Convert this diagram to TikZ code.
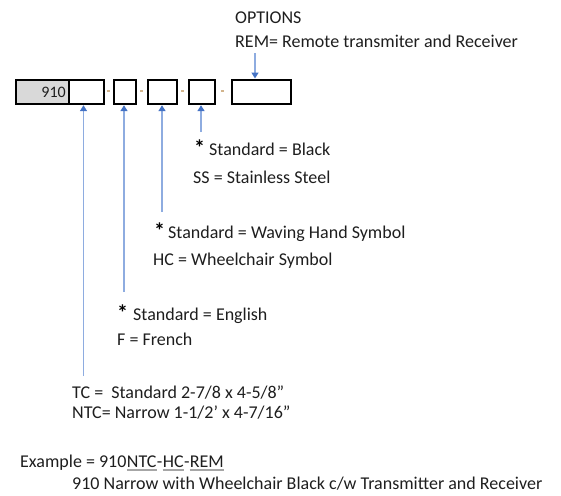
\documentclass[tikz,border=0pt]{standalone}
\usepackage{fontspec}
\setmainfont{Carlito}
\usetikzlibrary{arrows.meta}
\definecolor{txtc}{HTML}{1E1E1E}
\definecolor{arrline}{HTML}{8EACE0}
\definecolor{arrhead}{HTML}{4472C4}
\definecolor{boxfill}{HTML}{D9D9D9}
\definecolor{sepc}{HTML}{D2B48C}
\definecolor{ulc}{HTML}{A6A6A6}
\begin{document}
\begin{tikzpicture}[x=1pt,y=-1pt,
  cbox/.style={draw=black, line width=1.7pt, minimum height=24pt, inner sep=0pt, anchor=north west},
  lbl/.style={anchor=base west, inner sep=0pt, font=\fontsize{18}{18}\selectfont, text=txtc},
  star/.style={anchor=base west, inner sep=0pt, font=\fontsize{22}{22}\selectfont\bfseries, text=black},
  arr/.style={draw=arrline, line width=1.6pt, -{Triangle[length=6pt,width=7pt,color=arrhead]}, shorten >=0.5pt},
  sepmark/.style={fill=sepc, inner sep=0pt, minimum width=3pt, minimum height=2pt},
  uline/.style={draw=ulc, line width=1.2pt}
]
\useasboundingbox (0,0) rectangle (561,495);

% code boxes
\node[cbox, fill=boxfill, minimum width=53pt] (b0) at (15,79) {};
\node[anchor=base east, inner sep=0pt, font=\fontsize{16}{16}\selectfont, text=txtc] (t910) at (66,97) {910};
\node[cbox, minimum width=35pt] (b1) at (68,79) {};
\node[cbox, minimum width=22pt] (b2) at (113,79) {};
\node[cbox, minimum width=29pt] (b3) at (147,79) {};
\node[cbox, minimum width=26pt] (b4) at (188,79) {};
\node[cbox, minimum width=59pt] (b5) at (231,79) {};

% separators
\node[sepmark] (d1) at (108.5,91) {};
\node[sepmark] (d2) at (141,91) {};
\node[sepmark] (d3) at (182,91) {};
\node[sepmark] (d4) at (222,91) {};

% options
\node[lbl] (opt) at (235,24) {OPTIONS};
\node[lbl] (rem) at (235,48) {REM= Remote transmiter and Receiver};
\coordinate (a5) at (255,53);
\draw[arr] (a5) -- (a5 |- b5.north);

% colour
\node[star] (s4) at (194,155) {*};
\node[lbl] (blk) at (209,155) {Standard = Black};
\node[lbl] (ss) at (193,183) {SS = Stainless Steel};
\coordinate (a4) at (201,132);
\draw[arr] (a4) -- (a4 |- b4.south);

% symbol
\node[star] (s3) at (154,238) {*};
\node[lbl] (wav) at (168,238) {Standard = Waving Hand Symbol};
\node[lbl] (hc) at (153,265) {HC = Wheelchair Symbol};
\coordinate (a3) at (162,212);
\draw[arr] (a3) -- (a3 |- b3.south);

% language
\node[star] (s2) at (117,320) {*};
\node[lbl] (eng) at (133,320) {Standard = English};
\node[lbl] (fr) at (117,345) {F = French};
\coordinate (a2) at (124,292);
\draw[arr] (a2) -- (a2 |- b2.south);

% size
\node[lbl] (tc) at (72,398) {TC = \ Standard 2-7/8 x 4-5/8{\char"22}};
\node[lbl] (ntc) at (72,418) {NTC= Narrow 1-1/2{\char"27} x 4-7/16{\char"22}};
\coordinate (a1) at (83.5,376);
\draw[arr] (a1) -- (a1 |- b1.south);

% example
\node[lbl] (ex) at (20,467) {Example = 910};
\node[lbl] (exntc) at (ex.base east) {NTC};
\node[lbl] (exd1) at (exntc.base east) {-};
\node[lbl] (exhc) at (exd1.base east) {HC};
\node[lbl] (exd2) at (exhc.base east) {-};
\node[lbl] (exrem) at (exd2.base east) {REM};
\draw[uline] ([yshift=-3pt]exntc.base west) -- ([yshift=-3pt]exntc.base east);
\draw[uline] ([yshift=-3pt]exhc.base west) -- ([yshift=-3pt]exhc.base east);
\draw[uline] ([yshift=-3pt]exrem.base west) -- ([yshift=-3pt]exrem.base east);
\node[lbl] (desc) at (72,489) {910 Narrow with Wheelchair Black c/w Transmitter and Receiver};
\end{tikzpicture}
\end{document}
